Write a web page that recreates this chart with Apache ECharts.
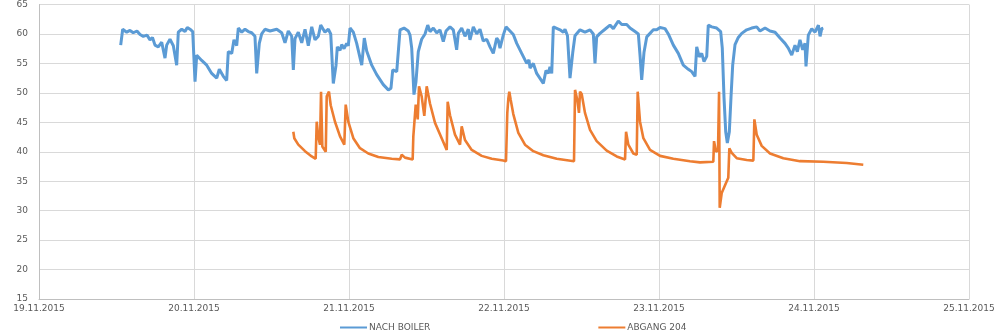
<!DOCTYPE html>
<html>
<head>
<meta charset="utf-8">
<script src="https://cdn.jsdelivr.net/npm/echarts@6/dist/echarts.min.js"></script>
<style>
  html, body { margin: 0; padding: 0; background: #ffffff; }
  #chart { width: 1006px; height: 330px; }
</style>
</head>
<body>
<div id="chart"></div>
<script>
// Day labels on the x axis (one tick every 24 h, starting 19.11.2015 00:00)
const dayLabels = ['19.11.2015', '20.11.2015', '21.11.2015', '22.11.2015', '23.11.2015', '24.11.2015', '25.11.2015'];

// NACH BOILER: hours since 19.11.2015 00:00 and temperature in °C
const boilerHours = [
  12.65, 12.96, 13.58, 14.09, 14.60, 15.17, 15.64, 16.15, 16.72, 17.19, 17.57, 17.96, 18.47, 19.00, 19.51, 19.77,
  20.28, 20.80, 21.32, 21.57, 22.10, 22.61, 22.96, 23.38, 23.80, 24.16, 24.42, 25.19, 25.97, 26.74, 27.52, 27.92,
  28.54, 29.06, 29.31, 29.84, 30.19, 30.61, 30.86, 31.39, 31.90, 32.41, 32.93, 33.44, 33.71, 34.11, 34.48, 34.99,
  35.77, 36.81, 37.58, 38.09, 38.60, 39.13, 39.38, 39.64, 40.15, 40.68, 41.19, 41.70, 42.23, 42.74, 43.25, 43.62,
  44.28, 44.80, 45.17, 45.57, 45.99, 46.19, 46.61, 46.87, 47.23, 47.64, 47.89, 48.16, 48.67, 49.19, 49.97, 50.37,
  50.74, 51.52, 52.29, 53.31, 54.09, 54.50, 54.77, 55.39, 55.63, 55.90, 56.52, 57.18, 57.45, 57.71, 58.06, 58.37,
  58.73, 59.25, 59.77, 60.19, 60.54, 61.06, 61.58, 62.09, 62.60, 63.02, 63.64, 64.15, 64.67, 64.92, 65.45, 65.96,
  66.47, 66.73, 67.25, 67.77, 68.28, 68.79, 69.32, 69.83, 70.34, 70.87, 71.12, 71.38, 71.89, 72.31, 72.93, 73.44,
  73.97, 74.74, 75.52, 75.87, 76.03, 76.54, 77.06, 78.09, 78.50, 78.86, 79.12, 79.39, 79.64, 80.67, 81.19, 81.45,
  81.83, 82.22, 82.64, 82.99, 83.77, 84.54, 85.32, 85.83, 86.09, 86.35, 86.86, 87.64, 88.41, 88.93, 89.70, 90.23,
  91.00, 91.51, 92.29, 92.80, 93.06, 93.32, 93.68, 94.10, 94.61, 95.12, 95.65, 96.16, 96.93, 97.44, 98.22, 98.99,
  99.76, 100.54, 101.06, 101.58, 101.84, 102.24, 102.61, 102.97, 103.39, 103.63, 104.16, 104.93, 105.55, 105.80, 106.07, 106.33,
  106.58, 106.89, 107.15, 107.41, 107.77, 108.28, 108.81, 109.58, 110.35, 111.13, 111.64, 112.42, 113.19, 113.97, 114.74, 115.51,
  116.02, 116.55, 117.06, 117.42, 117.83, 118.25, 118.61, 118.76, 119.12, 119.65, 120.16, 120.68, 120.94, 121.20, 121.44
];
const boilerTemps = [
  58.1, 60.8, 60.3, 60.6, 60.2, 60.5, 59.9, 59.6, 59.8, 59.0, 59.4, 58.1, 57.8, 58.6, 55.9, 58.1,
  59.1, 58.0, 54.7, 60.3, 60.8, 60.4, 61.1, 60.8, 60.4, 51.9, 56.4, 55.5, 54.7, 53.3, 52.5, 54.0,
  52.8, 52.1, 57.0, 56.7, 59.0, 58.0, 61.0, 60.3, 60.8, 60.4, 60.2, 59.6, 53.3, 58.4, 60.0, 60.8,
  60.5, 60.8, 60.2, 58.5, 60.5, 59.6, 53.9, 59.2, 60.3, 58.5, 60.8, 58.0, 61.2, 59.0, 59.6, 61.5,
  60.3, 60.8, 60.0, 51.6, 54.7, 57.8, 57.2, 58.2, 57.5, 58.4, 58.0, 61.0, 60.3, 58.4, 54.7, 59.3,
  57.1, 54.7, 53.1, 51.4, 50.5, 50.8, 53.9, 53.6, 53.9, 60.7, 61.0, 60.5, 59.8, 57.6, 49.7, 51.9,
  57.0, 59.1, 60.0, 61.5, 60.4, 61.0, 60.2, 60.7, 58.7, 60.5, 61.2, 60.7, 57.3, 60.1, 61.0, 59.6,
  60.8, 59.0, 61.2, 60.0, 60.8, 58.8, 59.1, 57.8, 56.7, 59.3, 58.9, 57.6, 59.8, 61.2, 60.5, 59.9,
  58.4, 56.7, 55.0, 55.6, 54.2, 55.0, 53.3, 51.6, 53.8, 53.3, 54.4, 53.3, 61.2, 60.7, 60.3, 60.8,
  59.7, 52.5, 56.8, 59.7, 60.7, 60.3, 60.7, 60.0, 55.0, 59.5, 60.1, 60.8, 61.5, 60.9, 62.2, 61.6,
  61.6, 61.0, 60.4, 60.0, 56.4, 52.2, 56.9, 59.5, 60.1, 60.7, 60.7, 61.1, 60.9, 60.0, 58.1, 56.7,
  54.7, 54.0, 53.6, 52.8, 57.8, 56.1, 56.7, 55.3, 56.2, 61.5, 61.2, 61.0, 60.4, 57.6, 49.1, 43.4,
  41.5, 43.4, 49.3, 54.7, 58.2, 59.4, 60.1, 60.7, 61.0, 61.2, 60.5, 61.0, 60.5, 60.3, 59.3, 58.4,
  57.6, 56.4, 58.1, 57.0, 59.0, 57.3, 58.4, 54.5, 59.8, 60.9, 60.3, 61.5, 59.6, 60.9, 61.0
];

// ABGANG 204: hours since 19.11.2015 00:00 and temperature in °C
const abgangHours = [
  39.38, 39.53, 40.15, 41.19, 42.23, 42.84, 43.00, 43.25, 43.51, 43.67, 43.87, 44.40, 44.55, 44.90, 45.17, 45.83,
  46.61, 47.27, 47.49, 47.89, 48.67, 49.70, 50.99, 52.54, 54.61, 55.90, 56.16, 56.67, 57.86, 57.96, 58.22, 58.33,
  58.64, 58.84, 59.25, 59.66, 60.03, 60.54, 61.32, 62.35, 63.13, 63.28, 63.64, 64.41, 65.19, 65.45, 65.96, 67.00,
  68.55, 70.10, 71.89, 72.31, 72.51, 72.67, 72.82, 73.04, 73.44, 74.22, 75.25, 76.54, 78.09, 80.16, 82.84, 83.00,
  83.35, 83.61, 83.77, 84.03, 84.54, 85.32, 86.35, 87.90, 89.45, 90.74, 90.90, 91.25, 92.03, 92.55, 92.70, 93.06,
  93.58, 94.61, 96.16, 98.22, 100.80, 102.35, 104.41, 104.52, 104.83, 105.14, 105.30, 105.40, 105.71, 106.49, 106.73, 106.89,
  107.26, 108.03, 109.58, 110.61, 110.77, 111.13, 111.90, 113.19, 115.25, 117.83, 121.44, 125.06, 127.63
];
const abgangTemps = [
  43.4, 42.3, 41.2, 40.1, 39.2, 38.8, 45.1, 42.5, 41.2, 50.2, 40.9, 40.0, 49.4, 50.2, 47.9, 45.1,
  42.6, 41.2, 48.0, 45.1, 42.3, 40.6, 39.7, 39.1, 38.8, 38.7, 39.5, 39.0, 38.7, 42.6, 42.4, 48.0,
  45.5, 51.1, 49.4, 46.1, 51.1, 48.2, 44.9, 42.3, 40.3, 48.5, 46.2, 42.9, 41.2, 44.3, 42.0, 40.3,
  39.3, 38.8, 38.5, 38.4, 46.6, 49.0, 50.2, 48.8, 46.4, 43.2, 41.2, 40.1, 39.4, 38.8, 38.4, 50.5,
  48.8, 46.6, 50.2, 49.8, 46.6, 43.7, 41.8, 40.2, 39.2, 38.7, 43.4, 41.2, 39.7, 39.5, 50.2, 45.1,
  42.3, 40.3, 39.3, 38.8, 38.4, 38.2, 38.3, 41.8, 40.0, 40.3, 50.2, 30.5, 33.0, 35.0, 35.6, 40.6,
  39.8, 38.9, 38.6, 38.5, 45.5, 42.9, 41.0, 39.7, 38.9, 38.4, 38.3, 38.1, 37.8
];

const zip = (xs, ys) => xs.map((x, i) => [x, ys[i]]);

const labelStyle = { color: '#595959', fontSize: 9, fontFamily: 'DejaVu Sans' };

const chart = echarts.init(document.getElementById('chart'), null, { renderer: 'canvas' });
chart.setOption({
  animation: false,
  backgroundColor: '#ffffff',
  grid: { left: 39, right: 37, top: 4, bottom: 31, containLabel: false },
  legend: {
    left: 335,
    top: 318,
    itemGap: 168,
    itemWidth: 27,
    itemHeight: 2,
    icon: 'rect',
    textStyle: { color: '#595959', fontSize: 9, fontFamily: 'DejaVu Sans', padding: [0, 0, 0, -3] },
    data: ['NACH BOILER', 'ABGANG 204']
  },
  xAxis: {
    type: 'value',
    min: 0,
    max: 144,
    interval: 24,
    axisLine: { show: true, lineStyle: { color: '#bfbfbf', width: 1 } },
    axisTick: { show: false },
    splitLine: { show: true, lineStyle: { color: '#d9d9d9', width: 1 } },
    axisLabel: Object.assign({}, labelStyle, {
      margin: 5,
      formatter: (v) => dayLabels[Math.round(v / 24)] || ''
    })
  },
  yAxis: {
    type: 'value',
    min: 15,
    max: 65,
    interval: 5,
    axisLine: { show: true, lineStyle: { color: '#bfbfbf', width: 1 } },
    axisTick: { show: false },
    splitLine: { show: true, lineStyle: { color: '#d9d9d9', width: 1 } },
    axisLabel: Object.assign({}, labelStyle, { margin: 11 })
  },
  series: [
    {
      name: 'NACH BOILER',
      type: 'line',
      symbol: 'none',
      data: zip(boilerHours, boilerTemps),
      lineStyle: { color: '#5b9bd5', width: 3 },
      itemStyle: { color: '#5b9bd5' }
    },
    {
      name: 'ABGANG 204',
      type: 'line',
      symbol: 'none',
      data: zip(abgangHours, abgangTemps),
      lineStyle: { color: '#ed7d31', width: 2.6 },
      itemStyle: { color: '#ed7d31' }
    }
  ]
});
</script>
</body>
</html>
